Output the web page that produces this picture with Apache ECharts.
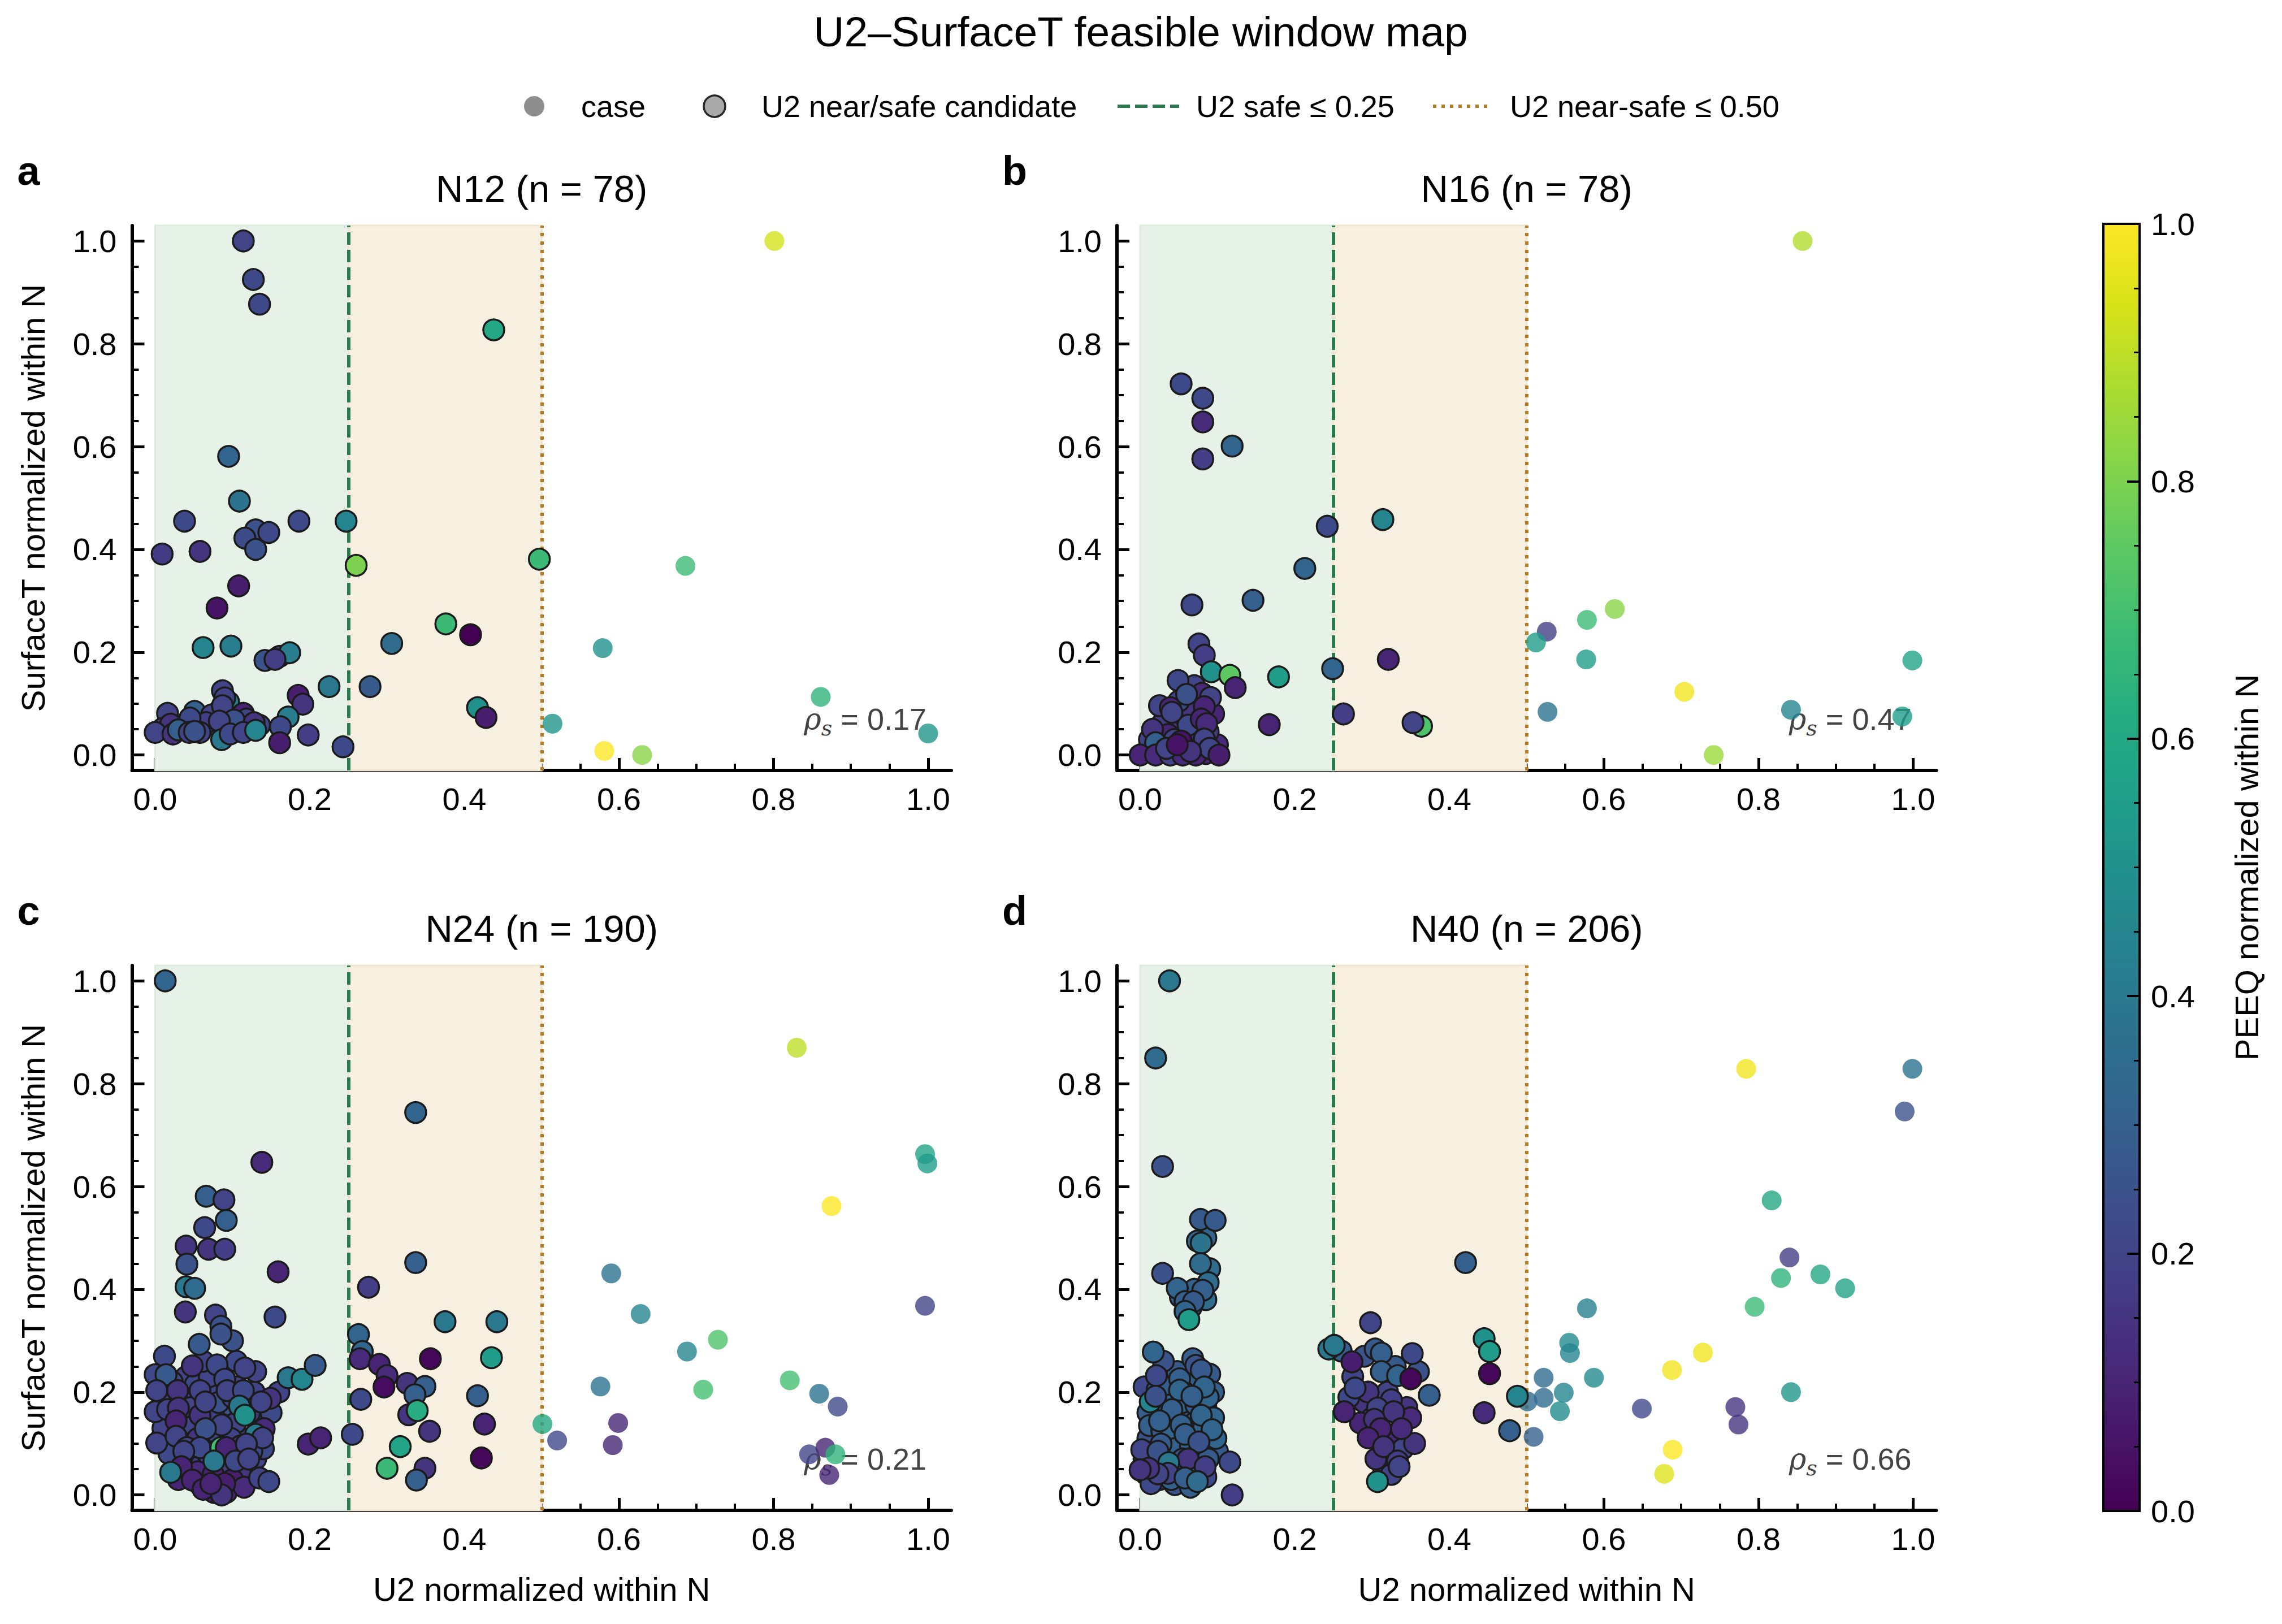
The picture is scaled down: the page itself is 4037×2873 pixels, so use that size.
<!DOCTYPE html>
<html><head><meta charset="utf-8">
<script src="https://cdn.jsdelivr.net/npm/echarts@6/dist/echarts.min.js"></script>
<style>html,body{margin:0;padding:0;background:#fff}#c{width:4037px;height:2873px}</style>
</head><body><div id="c"></div>
<script>
// ---------------- DATA ----------------
const panelNames = ['N12', 'N16', 'N24', 'N40'];
const panelCounts = [78, 78, 190, 206];
const panelLetters = ['a', 'b', 'c', 'd'];
const rhoValues = ['0.17', '0.47', '0.21', '0.66'];
const tickValues = [0, 0.2, 0.4, 0.6, 0.8, 1.0];
const minorValues = [0.05,0.1,0.15,0.25,0.3,0.35,0.45,0.5,0.55,0.65,0.7,0.75,0.85,0.9,0.95];
const SAFE_LIMIT = 0.25;
const NEAR_LIMIT = 0.50;

// [U2 normalized, SurfaceT normalized, PEEQ normalized]
const n12Cand = [
[0.114,1.0,0.2],[0.127,0.925,0.22],[0.135,0.877,0.22],[0.438,0.827,0.6],
[0.095,0.581,0.32],[0.109,0.494,0.38],[0.038,0.455,0.22],[0.186,0.455,0.22],[0.247,0.455,0.45],
[0.130,0.438,0.25],[0.147,0.433,0.22],[0.116,0.422,0.23],[0.130,0.400,0.25],[0.009,0.391,0.17],[0.058,0.396,0.15],
[0.260,0.369,0.8],[0.497,0.381,0.68],[0.108,0.329,0.08],[0.080,0.286,0.05],[0.376,0.255,0.68],[0.408,0.234,0.0],
[0.306,0.217,0.35],[0.062,0.209,0.45],[0.098,0.212,0.42],[0.142,0.184,0.25],[0.161,0.192,0.18],[0.174,0.199,0.42],
[0.225,0.133,0.4],[0.278,0.133,0.28],[0.087,0.125,0.2],[0.185,0.116,0.08],[0.191,0.099,0.15],[0.095,0.103,0.45],[0.090,0.111,0.2],
[0.417,0.092,0.5],[0.428,0.073,0.08],[0.016,0.081,0.2],[0.051,0.085,0.3],[0.079,0.081,0.2],[0.114,0.081,0.1],[0.172,0.074,0.42],
[0.073,0.078,0.2],[0.076,0.060,0.15],[0.066,0.063,0.18],[0.108,0.055,0.2],[0.010,0.052,0.18],[0.037,0.056,0.2],[0.118,0.070,0.2],
[0.087,0.096,0.2],[0.020,0.060,0.15],[0.135,0.058,0.2],[0.058,0.044,0.2],[0.155,0.186,0.18],[0.045,0.072,0.22],[0.102,0.068,0.25],
[0.128,0.063,0.15],[0.083,0.066,0.2],[0.162,0.055,0.22],[0.0,0.044,0.2],[0.023,0.041,0.15],[0.030,0.049,0.3],[0.044,0.044,0.2],[0.051,0.046,0.25],
[0.086,0.030,0.4],[0.097,0.041,0.22],[0.114,0.044,0.2],[0.130,0.048,0.45],[0.198,0.039,0.18],[0.161,0.024,0.08],[0.243,0.016,0.22]
];
const n12Case = [
[0.801,1.0,0.93],[0.686,0.368,0.68],[0.579,0.208,0.5],[0.861,0.113,0.65],[0.514,0.061,0.52],[0.581,0.008,1.0],[0.630,0.0,0.82],[1.0,0.042,0.52]
];

const n16Cand = [
[0.053,0.722,0.22],[0.081,0.694,0.22],[0.081,0.648,0.12],[0.119,0.601,0.32],[0.081,0.576,0.18],
[0.242,0.445,0.22],[0.314,0.458,0.45],[0.213,0.363,0.32],[0.146,0.301,0.3],[0.067,0.292,0.22],
[0.076,0.216,0.2],[0.083,0.194,0.18],[0.092,0.162,0.5],[0.116,0.155,0.75],[0.179,0.152,0.55],[0.123,0.131,0.1],
[0.249,0.168,0.32],[0.321,0.186,0.1],[0.263,0.080,0.18],[0.364,0.056,0.72],[0.353,0.063,0.2],[0.167,0.059,0.1],
[0.030,0.035,0.12],[0.045,0.050,0.15],[0.060,0.040,0.1],[0.070,0.020,0.2],[0.075,0.045,0.12],[0.010,0.010,0.15],[0.028,0.060,0.18],
[0.058,0.075,0.2],[0.066,0.090,0.15],[0.070,0.135,0.2],[0.095,0.080,0.1],[0.050,0.105,0.22],[0.012,0.030,0.2],[0.085,0.003,0.12],
[0.072,0.000,0.1],[0.100,0.020,0.12],[0.036,0.040,0.1],[0.062,0.058,0.22],[0.088,0.045,0.18],[0.026,0.004,0.1],[0.044,0.030,0.2],
[0.016,0.050,0.15],[0.080,0.120,0.12],
[0.049,0.145,0.22],[0.060,0.118,0.25],[0.091,0.112,0.2],[0.025,0.096,0.2],[0.039,0.092,0.1],[0.083,0.094,0.1],[0.079,0.070,0.1],[0.041,0.083,0.2],[0.086,0.061,0.12],
[0.020,0.024,0.3],[0.053,0.027,0.05],[0.083,0.031,0.2],[0.090,0.013,0.2],[0.0,0.0,0.1],[0.020,0.0,0.12],[0.039,0.0,0.2],[0.055,0.0,0.12],[0.065,0.007,0.15],[0.102,0.0,0.08],[0.034,0.013,0.2],[0.048,0.020,0.05]
];
const n16Case = [
[0.857,1.0,0.88],[0.526,0.240,0.18],[0.512,0.219,0.55],[0.578,0.263,0.68],[0.614,0.284,0.82],[0.577,0.186,0.55],
[0.999,0.184,0.58],[0.704,0.123,0.98],[0.527,0.084,0.38],[0.842,0.088,0.45],[0.986,0.075,0.55],[0.742,0.0,0.85]
];

const n24Cand = [
[0.005,0.215,0.2],[0.015,0.150,0.18],[0.025,0.175,0.22],[0.040,0.230,0.2],[0.044,0.155,0.15],[0.056,0.190,0.2],[0.068,0.200,0.22],[0.078,0.145,0.18],[0.088,0.160,0.2],[0.096,0.175,0.25],
[0.106,0.210,0.2],[0.118,0.185,0.22],[0.132,0.150,0.18],[0.008,0.110,0.2],[0.022,0.100,0.15],[0.038,0.105,0.22],[0.048,0.080,0.2],[0.062,0.100,0.18],[0.070,0.130,0.2],[0.090,0.080,0.22],
[0.102,0.120,0.2],[0.112,0.110,0.18],[0.028,0.065,0.2],[0.040,0.045,0.12],[0.052,0.060,0.15],[0.066,0.050,0.1],[0.082,0.050,0.12],[0.094,0.040,0.1],[0.108,0.060,0.2],[0.120,0.050,0.22],
[0.058,0.020,0.1],[0.076,0.005,0.08],[0.092,0.005,0.1],[0.130,0.070,0.2],[0.140,0.090,0.22],
[0.010,0.190,0.2],[0.022,0.220,0.22],[0.036,0.190,0.18],[0.046,0.170,0.2],[0.052,0.215,0.22],[0.070,0.230,0.2],[0.075,0.160,0.18],[0.082,0.180,0.25],[0.100,0.190,0.22],[0.104,0.140,0.2],
[0.122,0.160,0.18],[0.128,0.200,0.2],[0.010,0.130,0.2],[0.018,0.080,0.22],[0.033,0.120,0.18],[0.050,0.135,0.2],[0.055,0.110,0.15],[0.072,0.110,0.2],[0.080,0.120,0.22],[0.098,0.110,0.2],
[0.110,0.095,0.15],[0.125,0.085,0.22],[0.045,0.070,0.2],[0.060,0.060,0.18],[0.068,0.080,0.22],[0.095,0.060,0.2],[0.110,0.045,0.15],[0.030,0.030,0.1],[0.055,0.045,0.12],[0.075,0.040,0.1],
[0.100,0.030,0.08],[0.115,0.015,0.12],[0.062,0.260,0.2],[0.105,0.260,0.22],[0.130,0.240,0.2],[0.150,0.160,0.22],[0.160,0.200,0.2],[0.012,0.270,0.22],[0.100,0.300,0.25],[0.078,0.350,0.2],
[0.013,1.0,0.32],[0.337,0.744,0.32],[0.138,0.647,0.12],[0.066,0.581,0.3],[0.089,0.574,0.2],[0.064,0.520,0.22],[0.092,0.534,0.3],
[0.040,0.484,0.15],[0.069,0.478,0.15],[0.090,0.478,0.18],[0.041,0.449,0.25],[0.159,0.434,0.1],[0.337,0.452,0.3],
[0.040,0.405,0.4],[0.051,0.402,0.35],[0.276,0.404,0.18],[0.039,0.356,0.15],[0.155,0.346,0.22],
[0.085,0.328,0.25],[0.085,0.313,0.25],[0.375,0.337,0.4],[0.442,0.337,0.4],[0.263,0.312,0.32],[0.057,0.293,0.28],[0.268,0.279,0.32],
[0.356,0.265,0.02],[0.435,0.267,0.55],[0.265,0.265,0.12],[0.290,0.254,0.1],[0.300,0.232,0.12],[0.296,0.210,0.03],[0.326,0.217,0.15],[0.349,0.211,0.3],[0.336,0.195,0.3],[0.266,0.186,0.22],[0.417,0.193,0.3],
[0.328,0.156,0.15],[0.339,0.164,0.62],[0.355,0.124,0.15],[0.426,0.138,0.1],[0.317,0.094,0.58],[0.300,0.052,0.68],[0.349,0.052,0.15],[0.338,0.029,0.3],[0.422,0.072,0.02],
[0.048,0.251,0.15],[0.080,0.253,0.22],[0.116,0.247,0.2],[0.172,0.228,0.4],[0.190,0.225,0.45],[0.207,0.252,0.28],
[0.0,0.234,0.22],[0.014,0.234,0.28],[0.002,0.203,0.2],[0.029,0.203,0.15],[0.058,0.203,0.2],[0.090,0.225,0.22],[0.093,0.203,0.2],[0.114,0.203,0.22],[0.149,0.188,0.15],[0.137,0.181,0.2],[0.109,0.173,0.4],[0.116,0.155,0.5],
[0.0,0.162,0.2],[0.016,0.166,0.2],[0.030,0.169,0.15],[0.058,0.155,0.15],[0.065,0.181,0.2],[0.027,0.144,0.1],[0.086,0.136,0.2],[0.065,0.129,0.25],[0.141,0.129,0.12],[0.130,0.118,0.42],[0.139,0.111,0.2],
[0.002,0.101,0.2],[0.027,0.114,0.2],[0.041,0.092,0.2],[0.058,0.092,0.22],[0.085,0.092,0.7],[0.092,0.092,0.1],[0.118,0.099,0.2],[0.104,0.066,0.22],[0.121,0.070,0.2],[0.076,0.066,0.4],[0.037,0.085,0.2],
[0.034,0.055,0.1],[0.020,0.044,0.4],[0.048,0.029,0.1],[0.062,0.011,0.1],[0.083,0.018,0.05],[0.090,0.022,0.08],[0.086,0.0,0.15],[0.072,0.022,0.1],[0.135,0.033,0.2],[0.147,0.026,0.22],
[0.198,0.099,0.1],[0.214,0.111,0.1],[0.255,0.118,0.22]
];
const n24Case = [
[0.830,0.870,0.9],[0.996,0.663,0.58],[0.999,0.645,0.55],[0.875,0.562,1.0],[0.590,0.431,0.38],[0.628,0.352,0.45],[0.996,0.368,0.2],
[0.728,0.302,0.72],[0.688,0.279,0.45],[0.576,0.211,0.38],[0.709,0.205,0.7],[0.821,0.223,0.7],[0.859,0.197,0.38],[0.883,0.172,0.22],
[0.501,0.138,0.6],[0.520,0.106,0.22],[0.599,0.140,0.1],[0.592,0.097,0.1],[0.846,0.079,0.2],[0.867,0.092,0.1],[0.880,0.079,0.65],[0.872,0.039,0.1]
];

const n40Cand = [
[0.005,0.070,0.2],[0.015,0.065,0.18],[0.030,0.075,0.22],[0.045,0.080,0.3],[0.050,0.055,0.25],[0.068,0.045,0.3],[0.080,0.080,0.28],[0.090,0.095,0.3],[0.010,0.110,0.25],[0.035,0.115,0.3],
[0.045,0.150,0.32],[0.060,0.160,0.3],[0.070,0.140,0.35],[0.085,0.170,0.3],[0.095,0.150,0.32],[0.030,0.170,0.28],[0.010,0.160,0.3],[0.040,0.195,0.3],[0.060,0.215,0.32],[0.075,0.230,0.3],
[0.090,0.235,0.28],[0.035,0.245,0.25],[0.005,0.210,0.22],[0.045,0.100,0.3],[0.065,0.095,0.32],[0.100,0.085,0.28],[0.025,0.030,0.2],[0.045,0.020,0.25],[0.065,0.015,0.3],[0.085,0.035,0.22],
[0.052,0.385,0.3],[0.066,0.365,0.32],[0.085,0.380,0.35],[0.070,0.400,0.3],[0.090,0.440,0.35],[0.085,0.500,0.32],
[0.008,0.040,0.2],[0.018,0.055,0.22],[0.028,0.050,0.18],[0.040,0.030,0.3],[0.055,0.070,0.25],[0.072,0.060,0.3],[0.088,0.070,0.28],[0.098,0.110,0.32],[0.012,0.135,0.3],[0.028,0.125,0.28],
[0.040,0.130,0.32],[0.066,0.120,0.3],[0.082,0.130,0.32],[0.095,0.200,0.3],[0.022,0.205,0.28],[0.034,0.215,0.3],[0.055,0.180,0.32],[0.072,0.175,0.3],[0.088,0.190,0.32],[0.048,0.240,0.28],
[0.068,0.265,0.3],[0.030,0.260,0.25],
[0.260,0.280,0.3],[0.290,0.270,0.25],[0.320,0.200,0.2],[0.290,0.180,0.15],[0.345,0.170,0.15],[0.320,0.110,0.12],[0.300,0.150,0.18],[0.340,0.090,0.2],[0.285,0.140,0.1],[0.330,0.250,0.28],[0.360,0.240,0.25],[0.315,0.045,0.2],
[0.275,0.230,0.2],[0.295,0.200,0.15],[0.325,0.185,0.18],[0.350,0.150,0.12],[0.305,0.070,0.15],[0.325,0.040,0.2],[0.270,0.190,0.22],[0.355,0.100,0.15],
[0.038,1.0,0.4],[0.020,0.850,0.35],[0.029,0.639,0.25],[0.078,0.536,0.28],[0.097,0.534,0.28],[0.074,0.494,0.32],[0.079,0.490,0.38],[0.078,0.450,0.35],[0.029,0.431,0.25],[0.088,0.413,0.35],
[0.081,0.398,0.3],[0.048,0.402,0.32],[0.058,0.376,0.3],[0.069,0.376,0.28],[0.058,0.357,0.32],[0.063,0.341,0.55],[0.421,0.452,0.3],
[0.017,0.278,0.32],[0.072,0.252,0.25],[0.079,0.243,0.28],[0.021,0.232,0.22],[0.051,0.226,0.3],[0.083,0.210,0.32],[0.051,0.204,0.32],[0.013,0.181,0.45],[0.020,0.192,0.25],[0.067,0.192,0.3],
[0.041,0.166,0.3],[0.079,0.155,0.32],[0.025,0.144,0.3],[0.053,0.136,0.3],[0.093,0.127,0.32],[0.058,0.118,0.3],[0.076,0.103,0.25],[0.027,0.099,0.28],[0.002,0.088,0.2],[0.023,0.085,0.25],
[0.062,0.070,0.15],[0.084,0.055,0.18],[0.116,0.064,0.22],[0.0,0.048,0.2],[0.037,0.063,0.4],[0.036,0.042,0.2],[0.058,0.033,0.3],[0.074,0.026,0.35],[0.014,0.022,0.22],[0.119,0.0,0.18],[0.023,0.041,0.2],[0.011,0.052,0.15],[0.0,0.049,0.15],
[0.244,0.284,0.4],[0.251,0.291,0.4],[0.298,0.335,0.2],[0.304,0.284,0.28],[0.312,0.276,0.3],[0.274,0.259,0.08],[0.352,0.275,0.22],[0.278,0.208,0.22],[0.312,0.240,0.3],[0.333,0.232,0.32],[0.350,0.226,0.02],[0.374,0.194,0.3],
[0.264,0.162,0.1],[0.307,0.169,0.2],[0.328,0.162,0.15],[0.303,0.147,0.15],[0.311,0.129,0.1],[0.338,0.129,0.12],[0.295,0.111,0.1],[0.315,0.094,0.15],[0.333,0.066,0.18],[0.335,0.055,0.2],[0.307,0.026,0.5],
[0.445,0.304,0.5],[0.452,0.279,0.55],[0.452,0.236,0.02],[0.445,0.160,0.12],[0.478,0.125,0.3],[0.488,0.192,0.45]
];
const n40Case = [
[0.784,0.829,0.98],[0.999,0.829,0.38],[0.989,0.746,0.25],[0.817,0.573,0.6],[0.840,0.462,0.18],[0.829,0.422,0.65],[0.880,0.429,0.6],
[0.912,0.402,0.58],[0.795,0.366,0.68],[0.578,0.363,0.42],[0.555,0.296,0.48],[0.556,0.276,0.45],[0.728,0.277,0.98],[0.688,0.243,0.98],
[0.522,0.228,0.35],[0.587,0.228,0.48],[0.548,0.199,0.45],[0.522,0.189,0.35],[0.501,0.182,0.35],[0.543,0.163,0.48],[0.649,0.168,0.22],
[0.770,0.171,0.15],[0.774,0.137,0.15],[0.842,0.200,0.52],[0.509,0.113,0.3],[0.689,0.088,1.0],[0.678,0.041,0.95]
];

const candSets = [n12Cand, n16Cand, n24Cand, n40Cand];
const caseSets = [n12Case, n16Case, n24Case, n40Case];

// ---------------- STYLE ----------------
const VIRIDIS = ['#440154','#48186a','#472d7b','#424086','#3b528b','#33638d','#2c728e','#26828e',
  '#21918c','#1fa088','#28ae80','#3fbc73','#5ec962','#84d44b','#addc30','#d8e219','#fde725'];
const FONT = "'Liberation Sans', Arial, Helvetica, sans-serif";
const AX_MIN = -0.03, AX_MAX = 1.03;
const GRIDS = [
  {left: 233.5, top: 399, width: 1449.5, height: 964},
  {left: 1976, top: 399, width: 1449.5, height: 964},
  {left: 233.5, top: 1708, width: 1449.5, height: 964},
  {left: 1976, top: 1708, width: 1449.5, height: 964}
];
const CBAR = {left: 3721, top: 396, width: 64, height: 2277};
const SAFE_COLOR = '#2b7a4d', NEAR_COLOR = '#b47c22';

const chart = echarts.init(document.getElementById('c'), null, {renderer: 'svg', width: 4037, height: 2873});

const grid = GRIDS.map(g => Object.assign({containLabel: false}, g));
grid.push({left: CBAR.left, top: CBAR.top, width: CBAR.width, height: CBAR.height, show: true,
  borderColor: '#000', borderWidth: 4,
  backgroundColor: new echarts.graphic.LinearGradient(0, 1, 0, 0,
    VIRIDIS.map((c, i) => ({offset: i / (VIRIDIS.length - 1), color: c})))});

const fmt = v => v.toFixed(1);
const xAxis = [], yAxis = [];
GRIDS.forEach((g, p) => {
  xAxis.push({
    gridIndex: p, type: 'value', position: 'bottom', min: AX_MIN, max: AX_MAX,
    axisLine: {show: true, onZero: false, lineStyle: {color: '#000', width: 6}},
    axisTick: {show: true, inside: true, length: 22, lineStyle: {color: '#000', width: 5}, customValues: tickValues},
    axisLabel: {show: true, customValues: tickValues, formatter: fmt, fontSize: 56, fontFamily: FONT, color: '#000', margin: 22},
    splitLine: {show: false},
    name: p >= 2 ? 'U2 normalized within N' : '', nameLocation: 'middle', nameGap: 110,
    nameTextStyle: {fontSize: 58, fontFamily: FONT, color: '#000'}
  });
  xAxis.push({
    gridIndex: p, type: 'value', position: 'bottom', min: AX_MIN, max: AX_MAX,
    axisLine: {show: false, onZero: false},
    axisTick: {show: true, inside: true, length: 12, lineStyle: {color: '#000', width: 4}, customValues: minorValues},
    axisLabel: {show: false}, splitLine: {show: false}
  });
  yAxis.push({
    gridIndex: p, type: 'value', position: 'left', min: AX_MIN, max: AX_MAX,
    axisLine: {show: true, onZero: false, lineStyle: {color: '#000', width: 6}},
    axisTick: {show: true, inside: true, length: 22, lineStyle: {color: '#000', width: 5}, customValues: tickValues},
    axisLabel: {show: true, customValues: tickValues, formatter: fmt, fontSize: 56, fontFamily: FONT, color: '#000', margin: 27},
    splitLine: {show: false},
    name: (p % 2 === 0) ? 'SurfaceT normalized within N' : '', nameLocation: 'middle', nameRotate: 90, nameGap: 146,
    nameTextStyle: {fontSize: 58, fontFamily: FONT, color: '#000'}
  });
  yAxis.push({
    gridIndex: p, type: 'value', position: 'left', min: AX_MIN, max: AX_MAX,
    axisLine: {show: false, onZero: false},
    axisTick: {show: true, inside: true, length: 12, lineStyle: {color: '#000', width: 4}, customValues: minorValues},
    axisLabel: {show: false}, splitLine: {show: false}
  });
});
// colorbar axes (index 8 main, 9 minor)
xAxis.push({gridIndex: 4, type: 'value', min: 0, max: 1, show: false});
yAxis.push({
  gridIndex: 4, type: 'value', position: 'right', min: 0, max: 1,
  axisLine: {show: true, onZero: false, lineStyle: {color: '#000', width: 4}},
  axisTick: {show: true, inside: true, length: 22, lineStyle: {color: '#000', width: 4}, customValues: tickValues},
  axisLabel: {show: true, customValues: tickValues, formatter: fmt, fontSize: 56, fontFamily: FONT, color: '#000', margin: 20},
  splitLine: {show: false},
  name: 'PEEQ normalized within N', nameLocation: 'middle', nameRotate: 90, nameGap: 160,
  nameTextStyle: {fontSize: 58, fontFamily: FONT, color: '#000'}
});
yAxis.push({
  gridIndex: 4, type: 'value', position: 'right', min: 0, max: 1,
  axisLine: {show: false, onZero: false},
  axisTick: {show: true, inside: true, length: 10, lineStyle: {color: '#000', width: 3}, customValues: minorValues},
  axisLabel: {show: false}, splitLine: {show: false}
});

const series = [];
const colorSeries = [];
GRIDS.forEach((g, p) => {
  series.push({
    type: 'scatter', xAxisIndex: 2 * p, yAxisIndex: 2 * p, data: [], silent: true, z: 1,
    markArea: {silent: true, z: 1, label: {show: false},
      data: [
        [{xAxis: 0, itemStyle: {color: '#e6f1e8', borderColor: '#dcebe0', borderWidth: 3}}, {xAxis: SAFE_LIMIT}],
        [{xAxis: SAFE_LIMIT, itemStyle: {color: '#f7efe0', borderColor: '#f1e5cf', borderWidth: 3}}, {xAxis: NEAR_LIMIT}]
      ]},
    markLine: {silent: true, z: 2, symbol: ['none', 'none'], label: {show: false}, animation: false,
      data: [
        {xAxis: SAFE_LIMIT, lineStyle: {color: SAFE_COLOR, type: [22, 9], width: 6}},
        {xAxis: NEAR_LIMIT, lineStyle: {color: NEAR_COLOR, type: [6, 9], width: 6}}
      ]}
  });
  colorSeries.push(series.length);
  series.push({
    type: 'scatter', name: 'case', xAxisIndex: 2 * p, yAxisIndex: 2 * p, z: 3,
    data: caseSets[p], symbolSize: 35, itemStyle: {opacity: 0.8, borderWidth: 0}
  });
  colorSeries.push(series.length);
  series.push({
    type: 'scatter', name: 'U2 near/safe candidate', xAxisIndex: 2 * p, yAxisIndex: 2 * p, z: 4,
    data: candSets[p], symbolSize: 37, itemStyle: {opacity: 1, borderColor: '#1b1b1b', borderWidth: 3.5}
  });
});

// ---------------- TEXT / LEGEND ----------------
const graphic = [];
const txt = (text, x, y, size, opts) => Object.assign({type: 'text', silent: true,
  style: Object.assign({text, x, y, fontSize: size, fontFamily: FONT, fill: '#000', align: 'center', verticalAlign: 'middle'}, opts || {})});
graphic.push(txt('U2\u2013SurfaceT feasible window map', 2018, 56, 75));
// legend
const LY = 188;
graphic.push({type: 'circle', silent: true, shape: {cx: 945, cy: LY, r: 18}, style: {fill: '#8e8e8e'}});
graphic.push(txt('case', 1028, LY, 54, {align: 'left'}));
graphic.push({type: 'circle', silent: true, shape: {cx: 1264, cy: LY, r: 19}, style: {fill: '#a9a9a9', stroke: '#262626', lineWidth: 3.5}});
graphic.push(txt('U2 near/safe candidate', 1347, LY, 54, {align: 'left'}));
graphic.push({type: 'line', silent: true, shape: {x1: 1977, y1: LY, x2: 2086, y2: LY}, style: {stroke: SAFE_COLOR, lineWidth: 6, lineDash: [22, 9]}});
graphic.push(txt('U2 safe \u2264 0.25', 2116, LY, 54, {align: 'left'}));
graphic.push({type: 'line', silent: true, shape: {x1: 2535, y1: LY, x2: 2631, y2: LY}, style: {stroke: NEAR_COLOR, lineWidth: 6, lineDash: [6, 9]}});
graphic.push(txt('U2 near-safe \u2264 0.50', 2671, LY, 54, {align: 'left'}));

GRIDS.forEach((g, p) => {
  const cx = g.left + g.width / 2;
  graphic.push(txt(panelNames[p] + ' (n = ' + panelCounts[p] + ')', cx, g.top - 65.5, 67));
  graphic.push(txt(panelLetters[p], g.left - 203, g.top - 97, 72, {align: 'left', fontWeight: 'bold'}));
  graphic.push({type: 'text', silent: true, style: {
    text: '{r|\u03c1}{s|s}{n| = ' + rhoValues[p] + '}',
    x: g.left + g.width - 44, y: g.top + g.height - 91, align: 'right', verticalAlign: 'middle',
    fill: '#444',
    rich: {
      r: {fontFamily: "'DejaVu Serif', serif", fontStyle: 'italic', fontSize: 52, fill: '#444', lineHeight: 70},
      s: {fontFamily: "'DejaVu Serif', serif", fontStyle: 'italic', fontSize: 38, fill: '#444', lineHeight: 40, verticalAlign: 'bottom'},
      n: {fontFamily: FONT, fontSize: 54, fill: '#444', lineHeight: 70}
    }}});
});

chart.setOption({
  animation: false,
  backgroundColor: '#fff',
  grid, xAxis, yAxis, series, graphic,
  visualMap: [{type: 'continuous', show: false, min: 0, max: 1, dimension: 2,
    seriesIndex: colorSeries, inRange: {color: VIRIDIS}}]
});
</script></body></html>
